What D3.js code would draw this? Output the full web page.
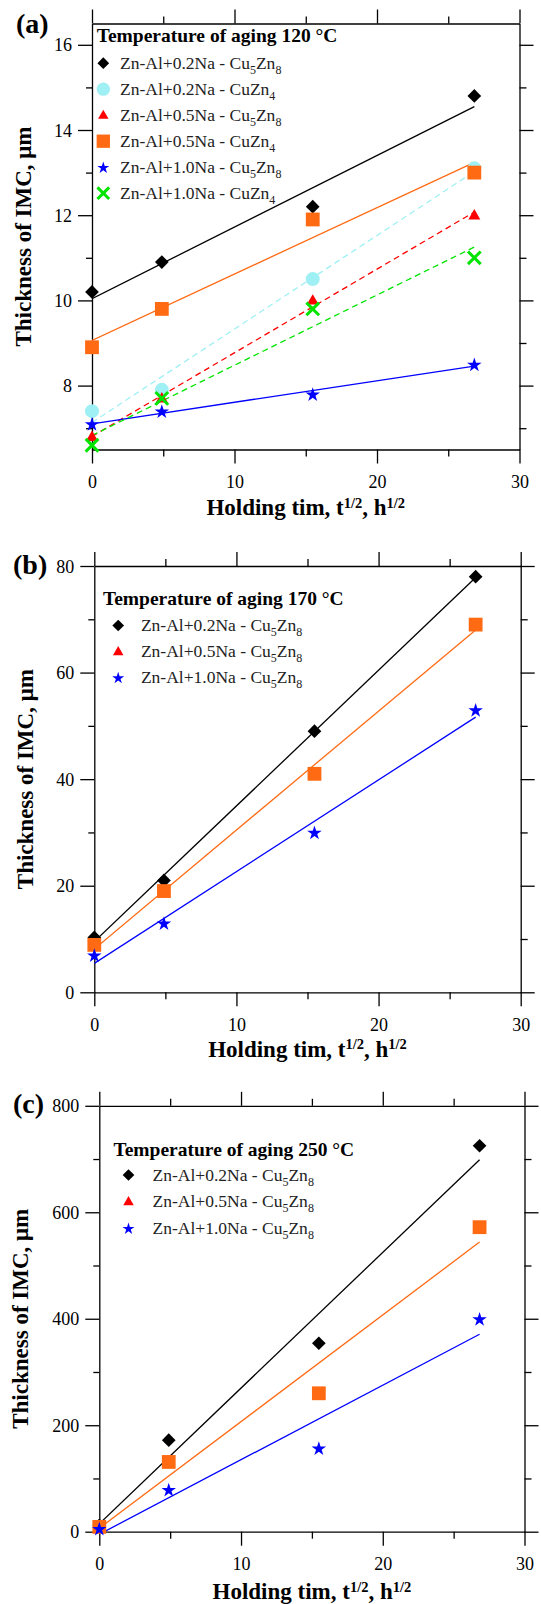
<!DOCTYPE html>
<html><head><meta charset="utf-8">
<script src="https://cdn.jsdelivr.net/npm/d3@7"></script>
<style>
body{margin:0;background:#fff;}
svg{display:block;}
text{font-family:"Liberation Serif","Times New Roman",serif;}
</style>
</head><body>
<svg id="chart" width="541" height="1604"></svg>
<script>
// ---------- DATA ----------
const xSqrtHours = [0, 4.9, 15.49, 26.83];
const xTickMajor = [0, 10, 20, 30];
const xTickMinor = [5, 15, 25];

// (a) 120 °C
const aTitle = "Temperature of aging 120 °C";
const aYTickMajor = [8, 10, 12, 14, 16];
const aYTickMinor = [7, 9, 11, 13, 15];
const a02Cu5Zn8 = [10.2, 10.9, 12.2, 14.8];
const a02CuZn4  = [7.4, 7.9, 10.5, 13.1];
const a05Cu5Zn8 = [6.8, 7.7, 10.0, 12.0];
const a05CuZn4  = [8.9, 9.8, 11.9, 13.0];
const a10Cu5Zn8 = [7.1, 7.4, 7.8, 8.5];
const a10CuZn4  = [6.6, 7.7, 9.8, 11.0];
const aLegendLabels = ["Zn-Al+0.2Na - Cu_5Zn_8", "Zn-Al+0.2Na - CuZn_4", "Zn-Al+0.5Na - Cu_5Zn_8",
                       "Zn-Al+0.5Na - CuZn_4", "Zn-Al+1.0Na - Cu_5Zn_8", "Zn-Al+1.0Na - CuZn_4"];

// (b) 170 °C
const bTitle = "Temperature of aging 170 °C";
const bYTickMajor = [0, 20, 40, 60, 80];
const bYTickMinor = [10, 30, 50, 70];
const b02Cu5Zn8 = [10.3, 21, 49, 78];
const b05Cu5Zn8 = [8.9, 19, 41, 69];
const b10Cu5Zn8 = [7, 13, 30, 53];

// (c) 250 °C
const cTitle = "Temperature of aging 250 °C";
const cYTickMajor = [0, 200, 400, 600, 800];
const cYTickMinor = [100, 300, 500, 700];
const c02Cu5Zn8 = [12, 172, 354, 725];
const c05Cu5Zn8 = [9, 131, 260, 572];
const c10Cu5Zn8 = [6, 79, 157, 400];

const bcLegendLabels = ["Zn-Al+0.2Na - Cu_5Zn_8", "Zn-Al+0.5Na - Cu_5Zn_8", "Zn-Al+1.0Na - Cu_5Zn_8"];

// ---------- STYLES ----------
const C = {black:"#000000", cyan:"#9ff0f4", red:"#ff0000", orange:"#ff6a13", blue:"#0000ff", green:"#00e400"};
const FONT = "'Liberation Serif','Times New Roman',serif";

const svg = d3.select("#chart");

function regression(xs, ys){
  const mx = d3.mean(xs), my = d3.mean(ys);
  let sxy = 0, sxx = 0;
  xs.forEach((xv,i)=>{ sxy += (xv-mx)*(ys[i]-my); sxx += (xv-mx)*(xv-mx); });
  const slope = sxy/sxx;
  return {slope, intercept: my - slope*mx};
}

function marker(g, type, cx, cy, s, color){
  if(type==="diamond"){
    const h = s/2;
    g.append("path").attr("d",`M${cx},${cy-h}L${cx+h},${cy}L${cx},${cy+h}L${cx-h},${cy}Z`).attr("fill",color);
  } else if(type==="circle"){
    g.append("circle").attr("cx",cx).attr("cy",cy).attr("r",s/2).attr("fill",color);
  } else if(type==="square"){
    g.append("rect").attr("x",cx-s/2).attr("y",cy-s/2).attr("width",s).attr("height",s).attr("fill",color);
  } else if(type==="triangle"){
    const h = s*0.87;
    g.append("path").attr("d",`M${cx},${cy-h*0.6}L${cx+s/2},${cy+h*0.4}L${cx-s/2},${cy+h*0.4}Z`).attr("fill",color);
  } else if(type==="star"){
    const r = s/1.902;
    const size = r*r/0.8908130915292852;
    g.append("path").attr("d",d3.symbol(d3.symbolStar,size)()).attr("transform",`translate(${cx},${cy+r*0.1})`).attr("fill",color);
  } else if(type==="x"){
    const h = s/2;
    g.append("path").attr("d",`M${cx-h},${cy-h}L${cx+h},${cy+h}M${cx-h},${cy+h}L${cx+h},${cy-h}`)
      .attr("stroke",color).attr("stroke-width",3).attr("fill","none");
  }
}

const dataSize = {diamond:13.7, circle:14, square:13.8, triangle:12, star:14.5, x:12.7};
const legendSize = {diamond:11.7, circle:13.3, square:13.3, triangle:10.5, star:12, x:11.7};

function richText(textSel, str, subSize, subShift){
  const parts = str.split(/(_\d)/).filter(s=>s.length);
  let pendingUp = 0;
  parts.forEach(p=>{
    if(p.startsWith("_")){
      textSel.append("tspan").attr("font-size",subSize).attr("dy",subShift+pendingUp).text(p.slice(1));
      pendingUp = -subShift;
    } else {
      const t = textSel.append("tspan").text(p);
      if(pendingUp) t.attr("dy",pendingUp);
      pendingUp = 0;
    }
  });
}

let clipId = 0;
function drawPanel(p){
  const x = d3.scaleLinear().domain([0,30]).range([p.left, p.right]);
  const y = d3.scaleLinear().domain(p.yDomain).range([p.bottom, p.top]);
  const g = svg.append("g");

  const style = sel => {
    sel.attr("font-family",FONT).attr("font-size",18);
    sel.selectAll("path,line").attr("stroke","#000").attr("stroke-width",1.3);
    sel.selectAll("text").attr("fill","#000");
  };
  const noDomain = sel => sel.select(".domain").remove();

  // bottom
  g.append("g").attr("transform",`translate(0,${p.bottom})`)
    .call(d3.axisBottom(x).tickValues(xTickMajor).tickSize(14).tickSizeOuter(0).tickFormat(d3.format("d")))
    .call(style).call(s=>s.selectAll("text").attr("y",38.5).attr("dy",null));
  g.append("g").attr("transform",`translate(0,${p.bottom})`)
    .call(d3.axisBottom(x).tickValues(xTickMinor).tickSize(7).tickSizeOuter(0).tickFormat(""))
    .call(style).call(noDomain);
  // top
  g.append("g").attr("transform",`translate(0,${p.top})`)
    .call(d3.axisTop(x).tickValues(xTickMajor).tickSize(14).tickSizeOuter(0).tickFormat(""))
    .call(style);
  g.append("g").attr("transform",`translate(0,${p.top})`)
    .call(d3.axisTop(x).tickValues(xTickMinor).tickSize(7).tickSizeOuter(0).tickFormat(""))
    .call(style).call(noDomain);
  // left
  g.append("g").attr("transform",`translate(${p.left},0)`)
    .call(d3.axisLeft(y).tickValues(p.yMajor).tickSize(14).tickSizeOuter(0).tickPadding(6).tickFormat(d3.format("d")))
    .call(style).call(s=>s.selectAll("text").attr("dy","0.34em"));
  g.append("g").attr("transform",`translate(${p.left},0)`)
    .call(d3.axisLeft(y).tickValues(p.yMinor).tickSize(6).tickSizeOuter(0).tickFormat(""))
    .call(style).call(noDomain);
  // right
  g.append("g").attr("transform",`translate(${p.right},0)`)
    .call(d3.axisRight(y).tickValues(p.yMajor).tickSize(14).tickSizeOuter(0).tickFormat(""))
    .call(style);
  g.append("g").attr("transform",`translate(${p.right},0)`)
    .call(d3.axisRight(y).tickValues(p.yMinor).tickSize(7).tickSizeOuter(0).tickFormat(""))
    .call(style).call(noDomain);

  // clip
  const cid = "clip"+(clipId++);
  svg.append("clipPath").attr("id",cid).append("rect")
    .attr("x",p.left).attr("y",p.top).attr("width",p.right-p.left).attr("height",p.bottom-p.top);

  // fit lines
  const lg = g.append("g").attr("clip-path",`url(#${cid})`);
  p.series.forEach(s=>{
    const r = regression(xSqrtHours, s.values);
    const x0 = d3.min(xSqrtHours), x1 = d3.max(xSqrtHours);
    lg.append("line")
      .attr("x1",x(x0)).attr("y1",y(r.intercept + r.slope*x0))
      .attr("x2",x(x1)).attr("y2",y(r.intercept + r.slope*x1))
      .attr("stroke",s.color).attr("stroke-width",1.3)
      .attr("stroke-dasharray", s.dashed ? "6,4" : null);
  });
  // markers
  const mg = g.append("g");
  p.series.forEach(s=>{
    s.values.forEach((v,i)=> marker(mg, s.marker, x(xSqrtHours[i]), y(v), dataSize[s.marker], s.color));
  });

  // legend
  const leg = g.append("g");
  leg.append("text").attr("x",p.legend.x).attr("y",p.legend.titleY)
    .attr("font-size",19.5).attr("font-weight","bold").attr("font-family",FONT).text(p.legend.title);
  p.legend.items.forEach((it,i)=>{
    const ry = p.legend.rowY + i*p.legend.rowStep;
    marker(leg, it.marker, p.legend.markerX, ry, legendSize[it.marker], it.color);
    const t = leg.append("text").attr("x",p.legend.textX).attr("y",ry+5.5)
      .attr("font-size",17.5).attr("font-family",FONT).attr("fill","#222");
    richText(t, it.label, 12, 5);
  });

  // axis titles
  const xt = g.append("text").attr("x",(p.left+p.right)/2).attr("y",p.xLabelY)
    .attr("text-anchor","middle").attr("font-size",23).attr("font-weight","bold").attr("font-family",FONT);
  xt.append("tspan").text("Holding tim, t");
  xt.append("tspan").attr("font-size",14.5).attr("dy",-7.5).text("1/2");
  xt.append("tspan").attr("dy",7.5).text(", h");
  xt.append("tspan").attr("font-size",14.5).attr("dy",-7.5).text("1/2");

  g.append("text").attr("transform",`translate(${p.yLabelX},${(p.top+p.bottom)/2}) rotate(-90)`)
    .attr("text-anchor","middle").attr("font-size",23).attr("font-weight","bold").attr("font-family",FONT)
    .text("Thickness of IMC, μm");

  g.append("text").attr("x",p.tag.x).attr("y",p.tag.y).attr("font-size",28).attr("font-weight","bold")
    .attr("font-family",FONT).text(p.tag.text);
}

// ---------- PANELS ----------
drawPanel({
  left:92, right:519.5, top:23.5, bottom:449.5, yDomain:[6.5,16.5],
  yMajor:aYTickMajor, yMinor:aYTickMinor,
  series:[
    {values:a02Cu5Zn8, color:C.black, marker:"diamond", dashed:false},
    {values:a02CuZn4,  color:C.cyan,  marker:"circle",  dashed:true},
    {values:a05Cu5Zn8, color:C.red,   marker:"triangle",dashed:true},
    {values:a05CuZn4,  color:C.orange,marker:"square",  dashed:false},
    {values:a10Cu5Zn8, color:C.blue,  marker:"star",    dashed:false},
    {values:a10CuZn4,  color:C.green, marker:"x",       dashed:true}
  ],
  legend:{title:aTitle, x:96.7, titleY:41.7, markerX:103.3, textX:120, rowY:63.2, rowStep:26,
    items:[
      {marker:"diamond", color:C.black, label:aLegendLabels[0]},
      {marker:"circle", color:C.cyan, label:aLegendLabels[1]},
      {marker:"triangle", color:C.red, label:aLegendLabels[2]},
      {marker:"square", color:C.orange, label:aLegendLabels[3]},
      {marker:"star", color:C.blue, label:aLegendLabels[4]},
      {marker:"x", color:C.green, label:aLegendLabels[5]}
    ]},
  xLabelY:515, yLabelX:31, tag:{text:"(a)", x:16, y:33}
});

drawPanel({
  left:94.3, right:520.7, top:566, bottom:992.3, yDomain:[0,80],
  yMajor:bYTickMajor, yMinor:bYTickMinor,
  series:[
    {values:b02Cu5Zn8, color:C.black, marker:"diamond", dashed:false},
    {values:b05Cu5Zn8, color:C.orange,marker:"square",  dashed:false},
    {values:b10Cu5Zn8, color:C.blue,  marker:"star",    dashed:false}
  ],
  legend:{title:bTitle, x:103, titleY:605, markerX:118.2, textX:140.9, rowY:625.5, rowStep:26,
    items:[
      {marker:"diamond", color:C.black, label:bcLegendLabels[0]},
      {marker:"triangle", color:C.red, label:bcLegendLabels[1]},
      {marker:"star", color:C.blue, label:bcLegendLabels[2]}
    ]},
  xLabelY:1056.5, yLabelX:32.5, tag:{text:"(b)", x:13, y:573.5}
});

drawPanel({
  left:99.3, right:524.5, top:1105.8, bottom:1531.7, yDomain:[0,800],
  yMajor:cYTickMajor, yMinor:cYTickMinor,
  series:[
    {values:c02Cu5Zn8, color:C.black, marker:"diamond", dashed:false},
    {values:c05Cu5Zn8, color:C.orange,marker:"square",  dashed:false},
    {values:c10Cu5Zn8, color:C.blue,  marker:"star",    dashed:false}
  ],
  legend:{title:cTitle, x:113.5, titleY:1155.6, markerX:128.5, textX:152.5, rowY:1175, rowStep:26.6,
    items:[
      {marker:"diamond", color:C.black, label:bcLegendLabels[0]},
      {marker:"triangle", color:C.red, label:bcLegendLabels[1]},
      {marker:"star", color:C.blue, label:bcLegendLabels[2]}
    ]},
  xLabelY:1599, yLabelX:27.5, tag:{text:"(c)", x:13, y:1113}
});
</script>
</body></html>
